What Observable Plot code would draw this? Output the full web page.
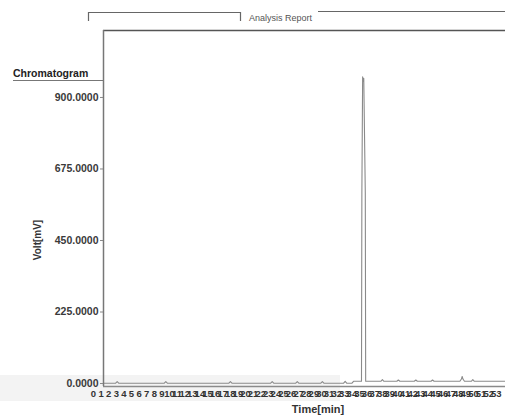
<!DOCTYPE html>
<html>
<head>
<meta charset="utf-8">
<script src="https://cdn.jsdelivr.net/npm/d3@7"></script>
<script src="https://cdn.jsdelivr.net/npm/@observablehq/plot@0.6"></script>
<style>
  html, body { margin: 0; padding: 0; background: #fff; }
  #chart { position: relative; width: 505px; height: 419px; overflow: hidden; }
  svg { font-family: "Liberation Sans", Arial, sans-serif; }
</style>
</head>
<body>
<div id="chart"></div>
<script>
// Retention time (min) and detector signal (mV)
const times = [0, 1.6, 1.8, 2.0, 8.0, 8.2, 8.4, 16.5, 16.7, 16.9, 22.0, 22.2, 22.4,
  25.3, 25.5, 25.7, 28.6, 28.8, 29.0, 31.6, 31.8, 32.0, 32.7, 32.9,
  33.95, 34.0, 34.1, 34.17, 34.25, 34.45, 34.5,
  36.5, 36.7, 36.9, 38.6, 38.8, 39.0, 40.9, 41.1, 41.3, 43.1, 43.3, 43.5,
  46.9, 47.1, 47.2, 47.3, 47.5, 48.4, 48.6, 48.8, 52.9];
const volts = [1, 1, 6, 1, 1, 6, 1, 1, 6, 1, 1, 6, 1,
  1, 6, 1, 1, 6, 1, 1, 7, 1, 1, 7,
  7, 600, 965, 950, 960, 600, 7,
  7, 12, 7, 7, 11, 7, 7, 11, 7, 7, 11, 7,
  7, 14, 22, 14, 7, 7, 12, 7, 7];
const yTicks = [0, 225, 450, 675, 900];
const xTicks = d3.range(0, 54);
const xLabel = "Time[min]";
const yLabel = "Volt[mV]";
const panelTitle = "Chromatogram";
const reportTitle = "Analysis Report";

const trace = times.map((t, i) => ({t, v: volts[i]}));

const plot = Plot.plot({
  width: 505,
  height: 419,
  marginTop: 30,
  marginBottom: 33,
  marginLeft: 103,
  marginRight: 0,
  x: {domain: [0, 52.9]},
  y: {domain: [-9.4, 1110.7]},
  style: {fontFamily: "Liberation Sans, Arial, sans-serif", background: "transparent"},
  marks: [
    Plot.line(trace, {x: "t", y: "v", stroke: "#8a8a8a", strokeWidth: 1.1}),
    Plot.ruleY([-9.4], {stroke: "#8a8a8a", strokeWidth: 1.5}),
    Plot.ruleY([1110.7], {stroke: "#555", strokeWidth: 1.5}),
    Plot.ruleX([0], {stroke: "#777", strokeWidth: 1.5}),
    Plot.axisY({ticks: yTicks, tickFormat: d => d.toFixed(4), tickSize: 3, tickPadding: 2,
      fontSize: 10.5, fontWeight: "bold", fill: "#3a3a3a", stroke: "#888", label: null}),
    Plot.axisX({ticks: xTicks, tickFormat: d => String(d), tickSize: 0, tickPadding: 4,
      dx: -10, fontSize: 9.5, fontWeight: "bold", fill: "#333", label: null})
  ]
});

const host = document.getElementById("chart");
host.appendChild(plot);

const svg = d3.select(plot);
// faint scan band behind the x axis
svg.insert("rect", ":first-child").attr("x", 0).attr("y", 375).attr("width", 340).attr("height", 26).attr("fill", "#f3f3f3");

// report header bracket
const g = svg.append("g").attr("stroke", "#666").attr("fill", "none").attr("stroke-width", 1.2);
g.append("path").attr("d", "M88.5,21 V12.5 H240.5 V21");
g.append("path").attr("d", "M318,11.5 H505");
svg.append("text").attr("x", 249).attr("y", 21).attr("text-anchor", "start")
  .attr("font-size", 9).attr("fill", "#555").text(reportTitle);

// panel title with underline
svg.append("text").attr("x", 13).attr("y", 77).attr("text-anchor", "start")
  .attr("font-size", 10.5).attr("font-weight", "bold").attr("fill", "#222").text(panelTitle);
svg.append("line").attr("x1", 13).attr("x2", 103).attr("y1", 80.5).attr("y2", 80.5)
  .attr("stroke", "#777").attr("stroke-width", 1);

// axis titles
svg.append("text").attr("transform", "translate(41,240) rotate(-90)").attr("text-anchor", "middle")
  .attr("font-size", 10).attr("font-weight", "bold").attr("fill", "#333").text(yLabel);
svg.append("text").attr("x", 318).attr("y", 413).attr("text-anchor", "middle")
  .attr("font-size", 11).attr("font-weight", "bold").attr("fill", "#333").text(xLabel);
</script>
</body>
</html>
